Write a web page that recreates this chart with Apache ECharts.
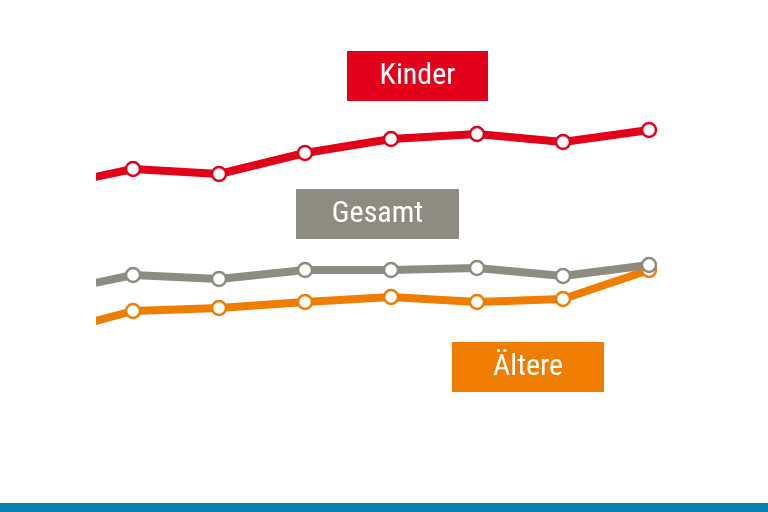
<!DOCTYPE html>
<html>
<head>
<meta charset="utf-8">
<script src="https://cdn.jsdelivr.net/npm/echarts@6/dist/echarts.min.js"></script>
<style>html,body{margin:0;padding:0;background:#fff}#c{width:768px;height:512px}</style>
</head>
<body>
<div id="c"></div>
<script>
// x positions (index 0 lies left of the visible area and is clipped)
const xs = [0, 1, 2, 3, 4, 5, 6, 7];
// values (512 - pixel y)
const kinder = [325, 343, 338, 359, 373, 378, 370, 382];
const gesamt = [219, 237, 233, 242, 242, 244, 236, 247];
const aeltere = [178, 201, 204, 210, 215, 210, 213, 242];

const FONT = '"Liberation Sans Narrow", "Roboto Condensed", "Liberation Sans", sans-serif';

function pairs(vals) {
    return xs.map((x, i) => [x, vals[i]]);
}

function lineSeries(name, vals, color, z) {
    return {
        name: name,
        type: 'line',
        data: pairs(vals),
        z: z,
        clip: true,
        symbol: 'circle',
        symbolSize: 14,
        showSymbol: true,
        lineStyle: { color: color, width: 8 },
        itemStyle: { color: '#fff', borderColor: color, borderWidth: 2.5 },
        animation: false
    };
}

function labelBox(text, x, y, w, h, color) {
    return {
        type: 'group',
        children: [
            { type: 'rect', shape: { x: x, y: y, width: w, height: h }, style: { fill: color } },
            {
                type: 'text', x: x + w / 2, y: y + h / 2,
                style: { text: text, fill: '#fff', font: '30px ' + FONT, align: 'center', verticalAlign: 'middle' }
            }
        ]
    };
}

const chart = echarts.init(document.getElementById('c'));
chart.setOption({
    animation: false,
    grid: { left: 100, right: 119, top: 0, bottom: 0 },
    xAxis: { type: 'value', min: 0.616, max: 7, show: false },
    yAxis: { type: 'value', min: 0, max: 512, show: false },
    series: [
        lineSeries('Ältere', aeltere, '#ef7d00', 2),
        lineSeries('Kinder', kinder, '#e2001a', 3),
        lineSeries('Gesamt', gesamt, '#8e8c80', 4)
    ],
    graphic: [
        labelBox('Kinder', 347, 51, 141, 50, '#e2001a'),
        labelBox('Gesamt', 296, 189, 163, 50, '#8e8c80'),
        labelBox('Ältere', 452, 342, 152, 50, '#ef7d00'),
        { type: 'rect', shape: { x: 0, y: 503, width: 768, height: 9 }, style: { fill: '#0a7fb2' } }
    ]
});
</script>
</body>
</html>
